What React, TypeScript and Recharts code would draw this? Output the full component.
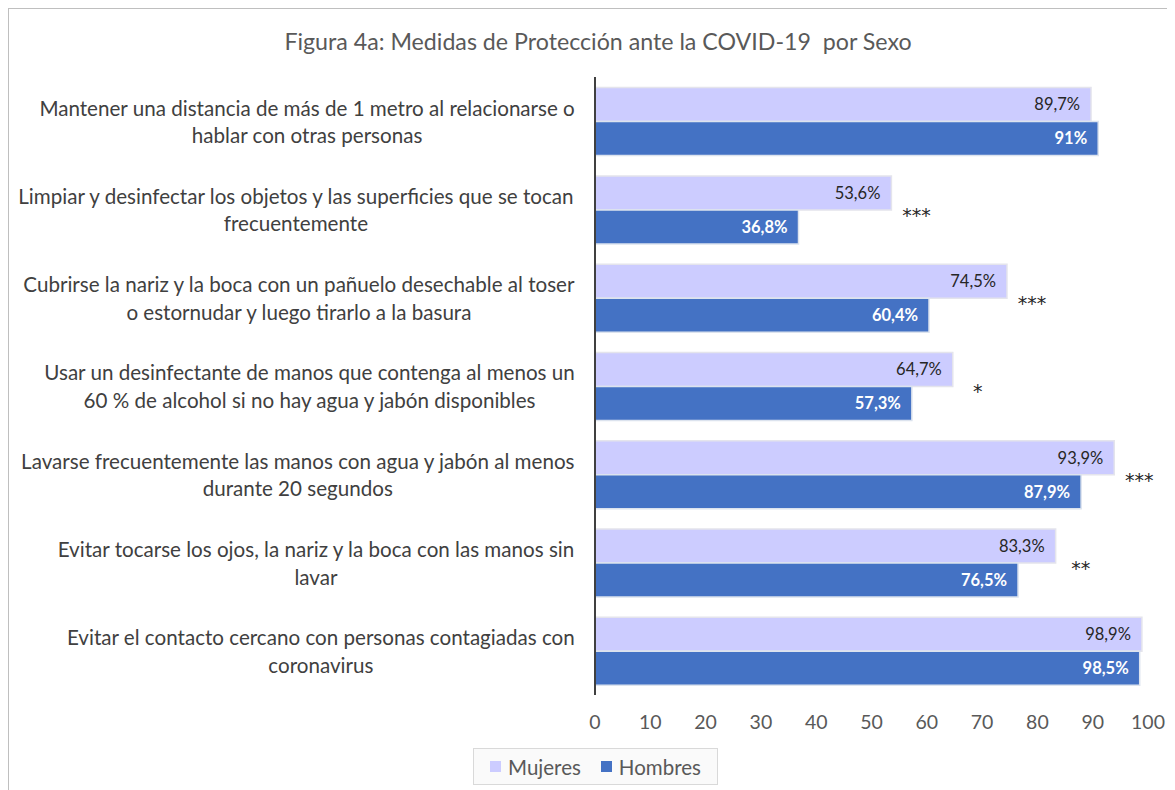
import React from 'react';
import { BarChart, Bar, XAxis, YAxis, LabelList, Legend } from 'recharts';

// Categories, top to bottom (line breaks as in the original figure)
const categories = [
  'Mantener una distancia de más de 1 metro al relacionarse o\nhablar con otras personas',
  'Limpiar y desinfectar los objetos y las superficies que se tocan\nfrecuentemente',
  'Cubrirse la nariz y la boca con un pañuelo desechable al toser\no estornudar y luego tirarlo a la basura',
  'Usar un desinfectante de manos que contenga al menos un\n60 % de alcohol si no hay agua y jabón disponibles',
  'Lavarse frecuentemente las manos con agua y jabón al menos\ndurante 20 segundos',
  'Evitar tocarse los ojos, la nariz y la boca con las manos sin\nlavar',
  'Evitar el contacto cercano con personas contagiadas con\ncoronavirus',
];
const mujeres = [89.7, 53.6, 74.5, 64.7, 93.9, 83.3, 98.9];
const hombres = [91, 36.8, 60.4, 57.3, 87.9, 76.5, 98.5];
const significance = ['', '***', '***', '*', '***', '**', ''];
const xTicks = [0, 10, 20, 30, 40, 50, 60, 70, 80, 90, 100];
const legendOrder = ['Mujeres', 'Hombres'];

const data = categories.map((name, i) => ({
  name,
  mujeres: mujeres[i],
  hombres: hombres[i],
  sig: significance[i],
}));

const FONT = 'Lato, "Open Sans", sans-serif';
const CAT_SIZE = 20.6;

let canvasCtx: CanvasRenderingContext2D | null = null;
const measure = (text: string) => {
  if (!canvasCtx) canvasCtx = document.createElement('canvas').getContext('2d');
  if (!canvasCtx) return text.length * CAT_SIZE * 0.5;
  canvasCtx.font = `${CAT_SIZE}px Lato`;
  return canvasCtx.measureText(text).width;
};

const fmt = (v: number) => String(v).replace('.', ',') + '%';

// two-line category labels, centred on each other, block right-aligned
const CategoryTick = (props: any) => {
  const { x, y, payload } = props;
  const lines: string[] = String(payload.value).split('\n');
  const maxW = Math.max(...lines.map(measure));
  const cx = x - maxW / 2;
  const lh = 27.5;
  return (
    <text textAnchor="middle" fill="#404040" fontSize={CAT_SIZE} fontFamily={FONT}>
      {lines.map((l, i) => (
        <tspan key={i} x={cx} y={y + 1 + (i - (lines.length - 1) / 2) * lh} dy="0.35em">
          {l}
        </tspan>
      ))}
    </text>
  );
};

const StarLabel = (props: any) => {
  const { x, y, width, height, index } = props;
  const s = data[index]?.sig;
  if (!s) return null;
  return (
    <text x={x + width + 25} y={y + height + 5} textAnchor="middle" dominantBaseline="central"
      fontSize={19} fontFamily='"DejaVu Sans", sans-serif' fill="#262626">
      {s}
    </text>
  );
};

const LegendBox = (props: any) => {
  const items = [...(props.payload || [])].sort(
    (a: any, b: any) => legendOrder.indexOf(a.value) - legendOrder.indexOf(b.value),
  );
  return (
    <div style={{
      border: '1px solid #D9D9D9', background: '#FAFAFA', height: 37, boxSizing: 'border-box',
      display: 'flex', alignItems: 'center', justifyContent: 'center', gap: 20,
      fontFamily: FONT, fontSize: 20.5, color: '#595959',
    }}>
      {items.map((it: any) => (
        <span key={it.value} style={{ display: 'flex', alignItems: 'center', gap: 7 }}>
          <span style={{ width: 11, height: 11, background: it.color, display: 'inline-block' }} />
          {it.value}
        </span>
      ))}
    </div>
  );
};

export default function App() {
  return (
    <div style={{
      position: 'relative', width: 1167, height: 790, border: '1px solid #BFBFBF',
      boxSizing: 'border-box', background: '#fff',
    }}>
      <div style={{
        position: 'absolute', top: 18, left: 0, width: 1178, textAlign: 'center',
        fontFamily: FONT, fontSize: 23.2, color: '#595959', whiteSpace: 'pre',
      }}>
        {'Figura 4a: Medidas de Protección ante la COVID-19  por Sexo'}
      </div>
      <div style={{ position: 'absolute', top: 0, left: 0 }}>
        <BarChart
          width={1166}
          height={790}
          data={data}
          layout="vertical"
          margin={{ top: 68, right: 27, bottom: 27, left: 0 }}
          barCategoryGap="12%"
          barGap={0}
        >
          <XAxis
            type="number"
            domain={[0, 100]}
            ticks={xTicks}
            axisLine={false}
            tickLine={false}
            tickSize={0}
            tickMargin={20}
            height={40}
            tick={{ fill: '#595959', fontSize: 19.5, fontFamily: FONT }}
          />
          <YAxis
            type="category"
            dataKey="name"
            width={586}
            axisLine={{ stroke: '#404040', strokeWidth: 2 }}
            tickLine={false}
            tickSize={0}
            tickMargin={20}
            tick={<CategoryTick />}
            interval={0}
          />
          <Legend
            verticalAlign="bottom"
            content={<LegendBox />}
            wrapperStyle={{ left: 464, top: 739, width: 245, bottom: 'auto' }}
          />
          <Bar dataKey="mujeres" name="Mujeres" fill="#CCCCFF" stroke="#E4E4EC" strokeWidth={1.5}
            isAnimationActive={false}>
            <LabelList dataKey="mujeres" position="insideRight" offset={11} formatter={(v: any) => fmt(v)}
              fill="#262626" fontSize={16.5} fontFamily={FONT} />
            <LabelList dataKey="sig" content={<StarLabel />} />
          </Bar>
          <Bar dataKey="hombres" name="Hombres" fill="#4472C4" stroke="#DCE3EE" strokeWidth={1.5}
            isAnimationActive={false}>
            <LabelList dataKey="hombres" position="insideRight" offset={11} formatter={(v: any) => fmt(v)}
              fill="#FFFFFF" fontSize={16.5} fontWeight="bold" fontFamily={FONT} />
          </Bar>
        </BarChart>
      </div>
    </div>
  );
}
